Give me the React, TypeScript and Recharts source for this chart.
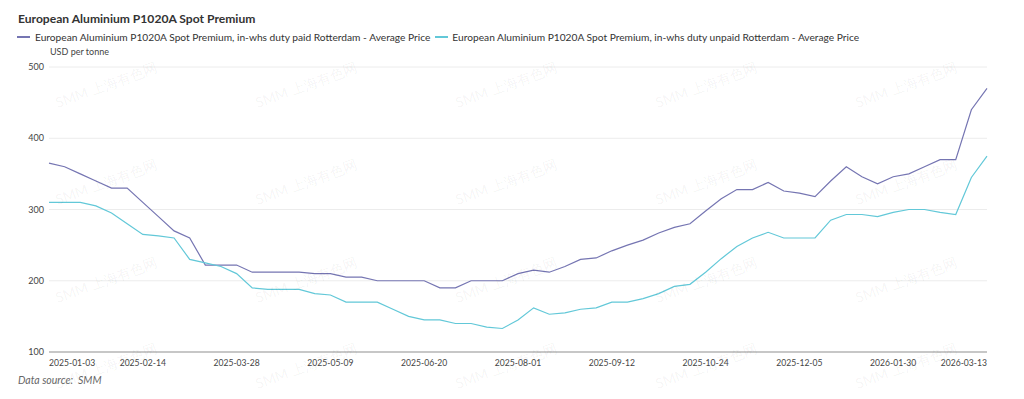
import { LineChart, Line, XAxis, YAxis, CartesianGrid } from "recharts";

const dates = [
  "2025-01-03", "2025-01-10", "2025-01-17", "2025-01-24", "2025-01-31",
  "2025-02-07", "2025-02-14", "2025-02-21", "2025-02-28", "2025-03-07",
  "2025-03-14", "2025-03-21", "2025-03-28", "2025-04-04", "2025-04-11",
  "2025-04-18", "2025-04-25", "2025-05-02", "2025-05-09", "2025-05-16",
  "2025-05-23", "2025-05-30", "2025-06-06", "2025-06-13", "2025-06-20",
  "2025-06-27", "2025-07-04", "2025-07-11", "2025-07-18", "2025-07-25",
  "2025-08-01", "2025-08-08", "2025-08-15", "2025-08-22", "2025-08-29",
  "2025-09-05", "2025-09-12", "2025-09-19", "2025-09-26", "2025-10-03",
  "2025-10-10", "2025-10-17", "2025-10-24", "2025-10-31", "2025-11-07",
  "2025-11-14", "2025-11-21", "2025-11-28", "2025-12-05", "2025-12-12",
  "2025-12-19", "2026-01-09", "2026-01-16", "2026-01-23", "2026-01-30",
  "2026-02-06", "2026-02-13", "2026-02-20", "2026-02-27", "2026-03-06",
  "2026-03-13",
];

// duty paid Rotterdam
const dutyPaid = [
  365, 360, 350, 340, 330, 330, 310, 290, 270, 260,
  222, 222, 222, 212, 212, 212, 212, 210, 210, 205,
  205, 200, 200, 200, 200, 190, 190, 200, 200, 200,
  210, 215, 212, 220, 230, 232, 242, 250, 257, 267,
  275, 280, 298, 315, 328, 328, 338, 326, 323, 318,
  340, 360, 346, 336, 346, 350, 360, 370, 370, 440,
  470,
];

// duty unpaid Rotterdam
const dutyUnpaid = [
  310, 310, 310, 305, 295, 280, 265, 263, 260, 230,
  225, 220, 210, 190, 188, 188, 188, 182, 180, 170,
  170, 170, 160, 150, 145, 145, 140, 140, 135, 133,
  145, 162, 153, 155, 160, 162, 170, 170, 175, 182,
  192, 195, 212, 231, 248, 260, 268, 260, 260, 260,
  285, 293, 293, 290, 296, 300, 300, 296, 293, 345,
  375,
];

const yTicks = [100, 200, 300, 400, 500];

const paidName =
  "European Aluminium P1020A Spot Premium, in-whs duty paid Rotterdam - Average Price";
const unpaidName =
  "European Aluminium P1020A Spot Premium, in-whs duty unpaid Rotterdam - Average Price";

const data = dates.map((d, i) => ({
  date: d,
  paid: dutyPaid[i],
  unpaid: dutyUnpaid[i],
}));

const PURPLE = "#7575b2";
const CYAN = "#62c8d8";
const FONT = "Lato, 'Noto Sans', sans-serif";

const wmRows = [85, 182, 280, 366];
const wmCols = [108, 308, 508, 708, 908];

function DateTick(props: any) {
  const { x, y, payload, index } = props;
  const last = dates.length - 1;
  const anchor =
    payload.index === 0 || index === 0
      ? "start"
      : payload.index === last
      ? "end"
      : "middle";
  return (
    <text
      x={x}
      y={y + 6}
      textAnchor={anchor}
      fill="#444"
      fontSize={8.6}
      fontFamily={FONT}
    >
      {payload.value}
    </text>
  );
}

export default function App() {
  return (
    <div
      style={{
        position: "absolute",
        left: 0,
        top: 0,
        width: 1024,
        height: 399,
        background: "#fff",
        fontFamily: FONT,
        overflow: "hidden",
      }}
    >
      <LineChart
        width={1024}
        height={399}
        data={data}
        margin={{ top: 67, right: 37, left: 0, bottom: 0 }}
      >
        <CartesianGrid vertical={false} stroke="#ececec" />
        <XAxis
          dataKey="date"
          interval={5}
          height={47}
          stroke="#999"
          tickLine={false}
          tick={<DateTick />}
        />
        <YAxis
          domain={[100, 500]}
          ticks={yTicks}
          width={49}
          axisLine={false}
          tickLine={false}
          tick={{ fill: "#444", fontSize: 9, fontFamily: FONT, dx: 3 }}
        />
        <Line
          type="linear"
          dataKey="paid"
          stroke={PURPLE}
          strokeWidth={1.2}
          dot={false}
          isAnimationActive={false}
        />
        <Line
          type="linear"
          dataKey="unpaid"
          stroke={CYAN}
          strokeWidth={1.2}
          dot={false}
          isAnimationActive={false}
        />
      </LineChart>

      {/* watermark */}
      {wmRows.map((y, r) =>
        wmCols.map((x, c) => (
          <div
            key={`wm-${r}-${c}`}
            style={{
              position: "absolute",
              left: x - 55,
              top: y - 9,
              fontSize: 14,
              color: "rgba(0,0,0,0.05)",
              whiteSpace: "nowrap",
              transform: "rotate(-20deg)",
              pointerEvents: "none",
            }}
          >
            SMM 上海有色网
          </div>
        ))
      )}

      <div
        style={{
          position: "absolute",
          left: 18,
          top: 11,
          fontSize: 12.1,
          fontWeight: 700,
          color: "#333",
          whiteSpace: "nowrap",
        }}
      >
        European Aluminium P1020A Spot Premium
      </div>

      <div
        style={{
          position: "absolute",
          left: 17,
          top: 31,
          display: "flex",
          alignItems: "center",
          fontSize: 10.2,
          color: "#333",
          whiteSpace: "nowrap",
        }}
      >
        <span
          style={{ width: 13, height: 2, background: PURPLE, marginRight: 5 }}
        />
        <span style={{ marginRight: 5 }}>{paidName}</span>
        <span
          style={{ width: 13, height: 2, background: CYAN, marginRight: 4 }}
        />
        <span>{unpaidName}</span>
      </div>

      <div
        style={{
          position: "absolute",
          left: 50,
          top: 46,
          fontSize: 9,
          color: "#444",
          whiteSpace: "nowrap",
        }}
      >
        USD per tonne
      </div>

      <div
        style={{
          position: "absolute",
          left: 18,
          top: 374,
          fontSize: 10.5,
          fontStyle: "italic",
          color: "#666",
          whiteSpace: "nowrap",
        }}
      >
        Data source:&nbsp;&nbsp;SMM
      </div>
    </div>
  );
}
